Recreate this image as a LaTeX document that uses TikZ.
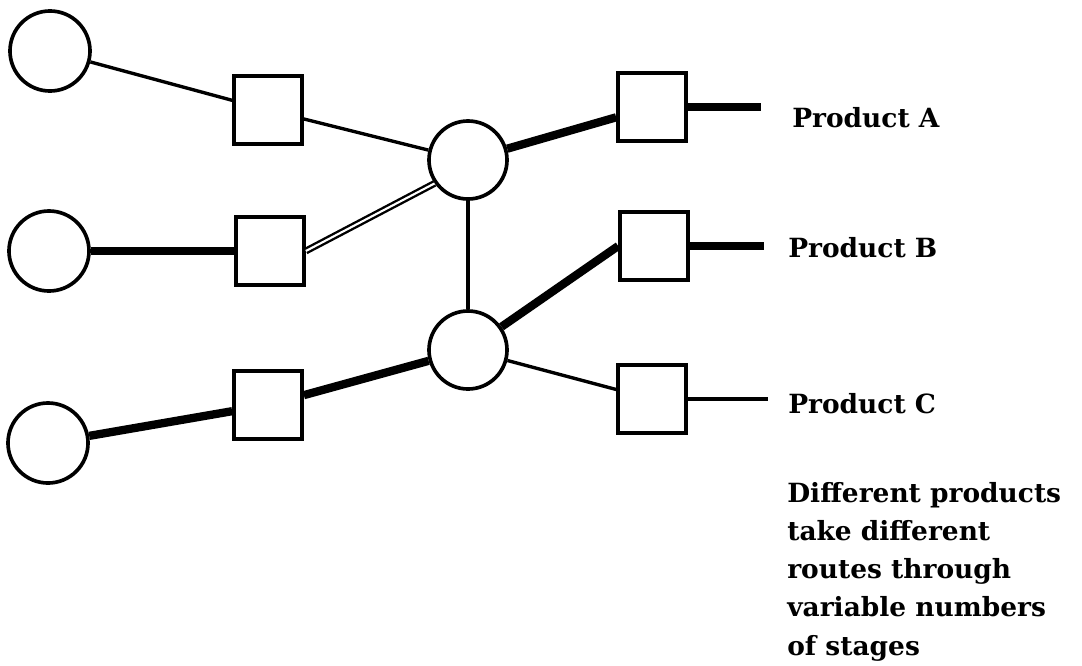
\documentclass[tikz,border=0pt]{standalone}
\usepackage{fontspec}
\setmainfont{DejaVu Serif}
\usepackage{tikz}
\usetikzlibrary{calc}
\newcommand{\sq}{1.7cm}

\begin{document}
\begin{tikzpicture}[x=0.025cm,y=-0.025cm,
    srcnode/.style={circle,draw,line width=2.6pt,minimum size=2.0cm,inner sep=0pt},
    hubnode/.style={circle,draw,line width=2.6pt,minimum size=1.95cm,inner sep=0pt},
    stagebox/.style={rectangle,draw,line width=2.6pt,minimum size=\sq,inner sep=0pt},
    thinlink/.style={line width=2.4pt},
    thicklink/.style={line width=5.9pt},
    doublelink/.style={double,line width=1.7pt,double distance=1.5pt},
    lbl/.style={anchor=base west,inner sep=0pt,font=\fontsize{18.8}{27.2}\selectfont\bfseries}]
                    \useasboundingbox (0,0) rectangle (1082,665);
                    \node[srcnode] (in1) at (50,51) {};
                    \node[srcnode] (in2) at (49,251) {};
                    \node[srcnode] (in3) at (48,443) {};
                    \node[stagebox] (s1) at (268,110) {};
                    \node[stagebox] (s2) at (270,251) {};
                    \node[stagebox] (s3) at (268,405) {};
                    \node[hubnode] (h1) at (468,160) {};
                    \node[hubnode] (h2) at (468,350) {};
                    \node[stagebox] (oa) at (652,107) {};
                    \node[stagebox] (ob) at (654,246) {};
                    \node[stagebox] (oc) at (652,399) {};
                    \path (oa.east) ++(73,0) coordinate (ea);
                    \path (ob.east) ++(74,0) coordinate (eb);
                    \path (oc.east) ++(80,0) coordinate (ec);
                    \draw[thinlink] (in1) -- (s1);
                    \draw[thinlink] (s1) -- (h1);
                    \draw[thinlink] (h1) -- (h2);
                    \draw[thinlink] (h2) -- (oc);
                    \draw[thinlink] (oc.east) -- (ec);
                    \draw[thicklink] (in2) -- (s2);
                    \draw[thicklink] (in3) -- (s3);
                    \draw[thicklink] (s3) -- (h2);
                    \draw[thicklink] (h2) -- (ob.west);
                    \draw[thicklink] (h1) -- (oa);
                    \draw[thicklink] (oa.east) -- (ea);
                    \draw[thicklink] (ob.east) -- (eb);
                    \draw[doublelink] (s2.east) -- (h1.215);
                    \node[lbl] (pa) at (792,127) {Product A};
                    \node[lbl] (pb) at (788,257) {Product B};
                    \node[lbl] (pc) at (788,413) {Product C};
                    \node[lbl,align=left] (note) at (787,655) {Different products\\take different\\routes through\\variable numbers\\of stages};
\end{tikzpicture}
\end{document}
